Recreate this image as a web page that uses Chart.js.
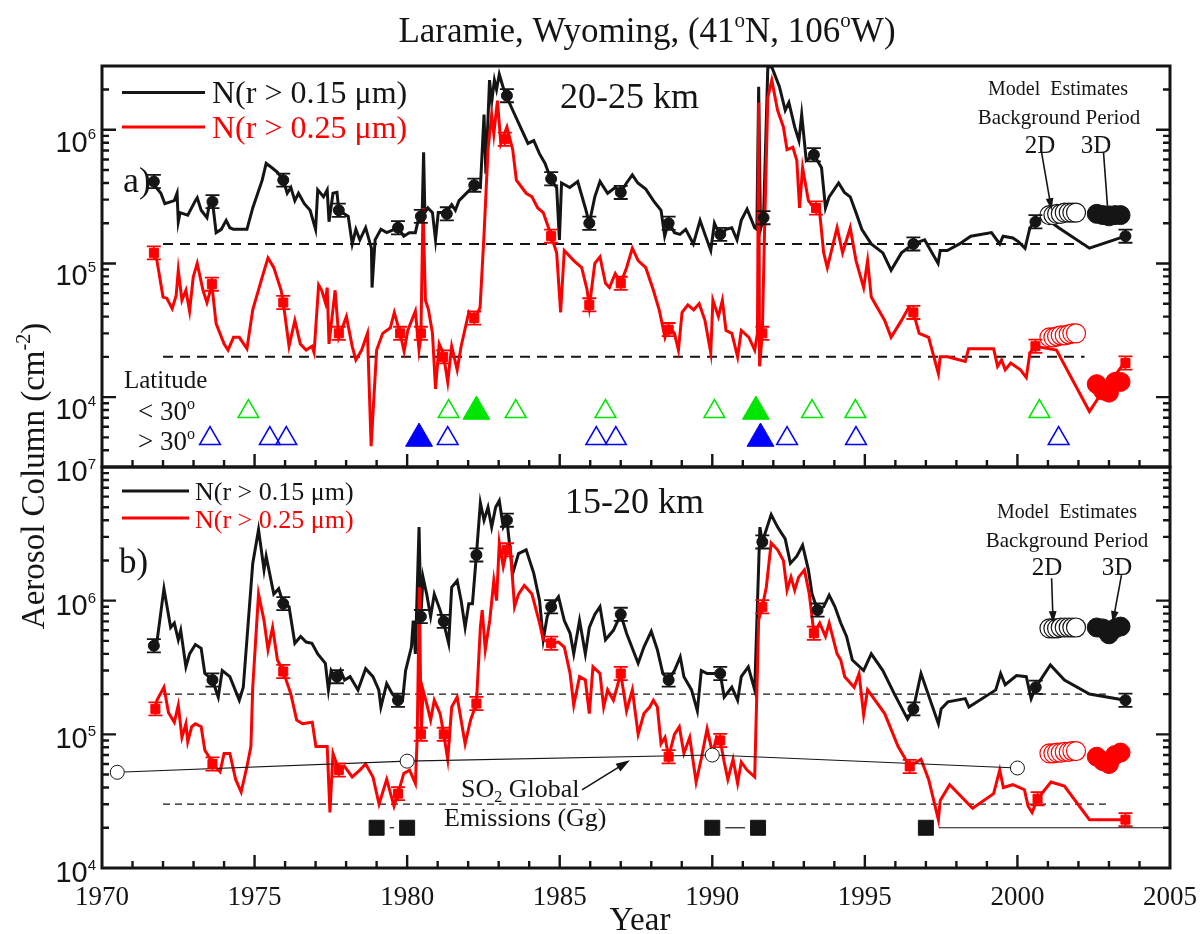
<!DOCTYPE html>
<html>
<head>
<meta charset="utf-8">
<title>Laramie aerosol columns</title>
<script src="https://cdn.jsdelivr.net/npm/chart.js@4.4.1/dist/chart.umd.min.js"></script>
<style>
  html, body { margin: 0; padding: 0; background: #fff; }
  #wrap { position: relative; width: 1200px; height: 934px; overflow: hidden; background: #fff; }
  #wrap canvas { position: absolute; left: 0; top: 0; }
</style>
</head>
<body>
<div id="wrap">
  <canvas id="panelA" width="1200" height="934"></canvas>
  <canvas id="panelB" width="1200" height="934"></canvas>
</div>
<script>
// ---------- shared axis values ----------
const yearTicks = [1970, 1975, 1980, 1985, 1990, 1995, 2000, 2005];
const decadesA = [1e4, 1e5, 1e6];
const decadesB = [1e4, 1e5, 1e6, 1e7];

// ---------- a) 20-25 km, N(r > 0.15 um) ----------
const yearsA15 = [
  1971.62,1971.93,1972.06,1972.37,1972.46,1972.5,1972.56,1972.81,1973.06,1973.12,
  1973.25,1973.44,1973.54,1973.62,1973.74,1973.91,1974.07,1974.19,1974.31,1974.75,
  1974.94,1975.25,1975.38,1975.57,1975.75,1975.94,1976.07,1976.19,1976.32,1976.44,
  1976.63,1976.82,1977.0,1977.07,1977.26,1977.38,1977.44,1977.57,1977.7,1977.76,
  1978.07,1978.2,1978.32,1978.45,1978.64,1978.83,1978.85,1978.95,1979.14,1979.33,
  1979.58,1979.7,1979.89,1980.07,1980.27,1980.39,1980.49,1980.54,1980.58,1980.68,
  1980.83,1980.93,1981.02,1981.27,1981.46,1981.58,1981.7,1981.97,1982.2,1982.4,
  1982.52,1982.58,1982.7,1982.77,1982.86,1982.93,1983.02,1983.14,1983.27,1983.46,
  1983.71,1983.96,1984.15,1984.34,1984.52,1984.72,1984.9,1984.99,1985.06,1985.33,
  1985.59,1985.84,1985.97,1986.15,1986.32,1986.57,1986.82,1987.0,1987.19,1987.38,
  1987.56,1987.82,1988.07,1988.32,1988.44,1988.57,1988.76,1988.94,1989.13,1989.38,
  1989.6,1989.76,1989.95,1990.07,1990.26,1990.45,1990.64,1990.81,1990.95,1991.14,
  1991.39,1991.46,1991.52,1991.58,1991.68,1991.82,1991.95,1992.2,1992.39,1992.51,
  1992.7,1992.84,1992.93,1993.08,1993.33,1993.58,1993.71,1993.83,1994.14,1994.33,
  1994.52,1994.71,1994.9,1995.21,1995.59,1995.86,1996.2,1996.59,1996.96,1997.4,
  1997.47,1997.7,1998.1,1998.47,1999.15,1999.42,1999.53,1999.85,2000.04,2000.25,
  2000.41,2000.59,2000.85,2001.35,2002.36,2003.54
];
const valsA15 = [
  4.1e5,3.35e5,2.8e5,2.95e5,3.35e5,2.05e5,2.4e5,2.3e5,2.95e5,3.1e5,
  2.5e5,2.2e5,2.95e5,2.9e5,1.7e5,1.8e5,2.1e5,1.85e5,1.8e5,1.8e5,
  2.6e5,4.2e5,5.6e5,5.2e5,4.8e5,4.2e5,3.35e5,3.7e5,2.95e5,3.35e5,
  2.8e5,2.5e5,1.8e5,3.55e5,3.15e5,3.55e5,2.05e5,3.35e5,3.4e5,2.5e5,
  2.25e5,1.4e5,1.8e5,1.5e5,1.85e5,1.3e5,6.6e4,1.5e5,1.8e5,1.7e5,
  1.8e5,1.85e5,1.6e5,1.7e5,1.7e5,2.25e5,2.25e5,6.8e5,2.4e5,2.6e5,
  2.4e5,1.5e5,2.4e5,2.4e5,2.75e5,2.5e5,2.95e5,3.4e5,3.85e5,3.7e5,
  1.3e6,4.7e5,2.35e6,1.6e6,2.35e6,2.0e6,2.6e6,2.1e6,1.75e6,1.4e6,
  1.05e6,7.9e5,8.3e5,6.6e5,5.6e5,4.2e5,3.7e5,1.5e5,4.0e5,3.7e5,
  4.1e5,2.6e5,2.0e5,3.15e5,4.1e5,3.35e5,3.7e5,3.4e5,4.0e5,4.6e5,
  4.0e5,3.6e5,2.95e5,2.5e5,1.6e5,2.05e5,1.7e5,1.65e5,1.8e5,1.4e5,
  2.1e5,1.65e5,1.25e5,2.0e5,1.6e5,1.8e5,1.85e5,1.5e5,2.1e5,2.55e5,
  1.85e5,1.8e5,2.1e6,1.8e5,2.2e5,2.95e6,2.95e6,2.1e6,1.4e6,1.6e6,
  1.05e6,8.3e5,1.3e6,5.9e5,6.5e5,5.2e5,2.6e5,3.15e5,4.0e5,3.4e5,
  3.15e5,2.4e5,1.8e5,1.4e5,1.2e5,8.9e4,1.2e5,1.4e5,1.5e5,1.0e5,
  1.25e5,1.25e5,1.4e5,1.6e5,1.7e5,1.4e5,1.6e5,1.55e5,1.45e5,1.3e5,
  1.85e5,2.05e5,2.25e5,1.85e5,1.3e5,1.6e5
];

// ---------- a) 20-25 km, N(r > 0.25 um) ----------
const yearsA25 = [
  1971.7,1971.8,1972.0,1972.12,1972.3,1972.43,1972.5,1972.62,1972.75,1972.87,
  1972.99,1973.12,1973.31,1973.44,1973.6,1973.74,1974.0,1974.13,1974.31,1974.5,
  1974.75,1974.94,1975.25,1975.44,1975.63,1975.87,1975.94,1976.13,1976.32,1976.5,
  1976.69,1976.88,1976.95,1977.1,1977.2,1977.32,1977.38,1977.44,1977.64,1977.76,
  1978.01,1978.2,1978.32,1978.51,1978.7,1978.82,1979.0,1979.2,1979.45,1979.58,
  1979.77,1979.9,1980.02,1980.27,1980.39,1980.45,1980.52,1980.6,1980.7,1980.83,
  1980.93,1981.05,1981.18,1981.33,1981.46,1981.64,1981.77,1982.02,1982.2,1982.39,
  1982.52,1982.65,1982.77,1982.84,1982.96,1983.07,1983.27,1983.46,1983.58,1983.9,
  1984.09,1984.28,1984.46,1984.65,1984.72,1984.9,1985.03,1985.15,1985.46,1985.72,
  1985.9,1985.97,1986.15,1986.32,1986.5,1986.63,1986.82,1987.0,1987.19,1987.38,
  1987.57,1987.82,1988.07,1988.26,1988.45,1988.57,1988.76,1988.89,1989.01,1989.2,
  1989.39,1989.57,1989.76,1989.95,1990.02,1990.2,1990.33,1990.45,1990.64,1990.83,
  1990.95,1991.2,1991.39,1991.48,1991.52,1991.55,1991.64,1991.71,1991.82,1991.95,
  1992.14,1992.33,1992.45,1992.64,1992.77,1992.86,1992.96,1993.15,1993.33,1993.52,
  1993.65,1993.77,1994.09,1994.27,1994.52,1994.71,1994.96,1995.09,1995.21,1995.65,
  1995.86,1996.2,1996.44,1996.59,1996.78,1997.09,1997.41,1997.47,1997.71,1998.29,
  1998.4,1999.22,1999.35,1999.48,1999.6,1999.78,2000.1,2000.29,2000.41,2000.59,
  2001.28,2002.36,2002.73,2003.54
];
const valsA25 = [
  1.2e5,1.05e5,5.6e4,5.5e4,4.6e4,5.75e4,8.9e4,5.3e4,6.3e4,4.4e4,
  7.9e4,1.0e5,6.3e4,5.1e4,6.9e4,3.55e4,2.5e4,2.25e4,2.8e4,2.8e4,
  2.3e4,4.5e4,7.9e4,1.1e5,9.3e4,6.3e4,5.1e4,2.4e4,3.75e4,2.5e4,
  2.25e4,2.4e4,2.15e4,6.9e4,6.3e4,5.1e4,6.6e4,2.5e4,6.3e4,2.8e4,
  4.0e4,2.4e4,1.9e4,2.25e4,3.0e4,4.3e3,2.25e4,3.0e4,3.3e4,4.3e4,
  3.0e4,2.2e4,3.15e4,4.4e4,2.25e4,2.8e4,2.6e5,5.3e4,4.5e4,3.0e4,
  1.15e4,2.5e4,2.15e4,1.3e4,2.4e4,1.6e4,2.4e4,4.3e4,3.75e4,4.7e4,
  1.65e5,7.1e5,1.3e6,9.3e5,1.65e6,7.9e5,1.05e6,7.1e5,4.2e5,3.35e5,
  3.15e5,2.6e5,2.4e5,1.8e5,1.6e5,1.2e5,4.3e4,1.25e5,1.05e5,9.3e4,
  6.3e4,4.7e4,1.0e5,1.12e5,7.1e4,6.6e4,8.4e4,7.1e4,9.3e4,1.3e5,
  1.05e5,9.3e4,6.3e4,4.5e4,2.8e4,3.35e4,3.0e4,2.25e4,4.3e4,4.9e4,
  4.5e4,5.0e4,3.75e4,2.15e4,5.3e4,4.0e4,5.3e4,3.15e4,3.0e4,2.0e4,
  3.15e4,2.8e4,2.25e4,3.0e4,1.6e6,1.7e4,3.0e4,1.65e5,1.75e6,2.35e6,
  1.4e6,1.05e6,7.1e5,7.4e5,5.9e5,2.6e5,5.2e5,2.95e5,2.6e5,2.4e5,
  1.2e5,9.3e4,1.85e5,1.2e5,1.85e5,1.05e5,6.6e4,1.05e5,5.6e4,3.75e4,
  2.8e4,3.75e4,4.7e4,4.3e4,3.0e4,2.8e4,1.5e4,2.0e4,2.0e4,1.85e4,
  2.3e4,2.3e4,1.7e4,1.9e4,1.6e4,1.8e4,1.6e4,1.4e4,2.15e4,2.4e4,
  2.25e4,7.8e3,1.05e4,1.85e4
];

// ---------- b) 15-20 km, N(r > 0.15 um) ----------
const yearsB15 = [
  1971.62,1971.8,1972.03,1972.25,1972.37,1972.5,1972.58,1972.75,1972.87,1973.06,
  1973.25,1973.37,1973.5,1973.62,1973.81,1973.94,1974.19,1974.5,1974.63,1974.94,
  1975.13,1975.31,1975.38,1975.63,1975.79,1975.94,1976.13,1976.32,1976.51,1976.69,
  1976.88,1977.07,1977.32,1977.42,1977.51,1977.7,1977.82,1977.95,1978.13,1978.39,
  1978.64,1978.88,1979.07,1979.14,1979.33,1979.52,1979.7,1979.85,1979.95,1980.14,
  1980.2,1980.27,1980.39,1980.45,1980.52,1980.64,1980.77,1980.89,1981.08,1981.2,
  1981.36,1981.46,1981.64,1981.77,1981.9,1982.02,1982.14,1982.27,1982.4,1982.52,
  1982.65,1982.77,1982.9,1983.02,1983.15,1983.27,1983.46,1983.65,1983.9,1984.15,
  1984.34,1984.46,1984.59,1984.72,1984.96,1985.15,1985.34,1985.46,1985.65,1985.84,
  1985.97,1986.15,1986.32,1986.5,1986.76,1987.0,1987.19,1987.57,1987.76,1988.0,
  1988.2,1988.38,1988.57,1988.76,1988.95,1989.07,1989.32,1989.51,1989.64,1989.83,
  1990.01,1990.26,1990.39,1990.64,1990.83,1990.95,1991.18,1991.39,1991.56,1991.64,
  1991.77,1991.93,1992.14,1992.39,1992.56,1992.77,1992.96,1993.15,1993.27,1993.45,
  1993.65,1993.83,1994.02,1994.21,1994.4,1994.59,1994.96,1995.21,1995.59,1995.97,
  1996.4,1996.59,1996.84,1997.41,1997.5,1997.72,1998.29,1998.41,1999.29,1999.45,
  1999.6,1999.97,2000.29,2000.45,2000.6,2001.08,2001.54,2002.36,2003.54
];
const valsB15 = [
  4.5e5,4.9e5,1.23e6,6.3e5,6.8e5,5.1e5,6.0e5,3.2e5,4.0e5,4.7e5,
  4.4e5,2.85e5,2.7e5,2.55e5,1.9e5,3.0e5,2.7e5,1.8e5,2.25e5,1.9e6,
  3.4e6,1.7e6,2.15e6,1.12e6,1.23e6,9.5e5,9.0e5,4.8e5,5.4e5,4.9e5,
  4.8e5,4.0e5,3.4e5,2.15e5,3.0e5,2.55e5,3.0e5,2.55e5,2.7e5,2.15e5,
  3.1e5,2.7e5,2.15e5,1.6e5,2.4e5,2.0e5,1.8e5,1.8e5,3.0e5,4.5e5,
  7.1e5,4.0e5,3.55e6,7.6e5,1.5e6,1.12e6,7.6e5,1.12e6,8.5e5,6.8e5,
  4.8e5,1.26e6,1.41e6,1.0e6,6.3e5,9.5e5,9.5e5,2.2e6,5.4e6,4.0e6,
  5.0e6,3.55e6,5.0e6,5.6e6,3.55e6,4.0e6,1.6e6,2.25e6,2.4e6,1.6e6,
  1.0e6,5.1e5,7.6e5,9.0e5,1.07e6,7.1e5,5.7e5,4.0e5,7.1e5,4.0e5,
  6.3e5,7.9e5,9.0e5,5.1e5,6.0e5,7.9e5,5.7e5,3.4e5,4.5e5,5.9e5,
  4.3e5,2.85e5,2.55e5,3.0e5,3.8e5,2.7e5,2.15e5,1.5e5,3.0e5,2.85e5,
  2.85e5,2.85e5,1.9e5,2.25e5,1.8e5,2.7e5,3.2e5,2.15e5,3.55e6,2.75e6,
  3.4e6,4.4e6,3.55e6,2.9e6,1.9e6,2.15e6,2.6e6,1.7e6,1.12e6,8.5e5,
  9.0e5,1.1e6,9.0e5,6.8e5,5.4e5,3.6e5,3.0e5,4.0e5,3.0e5,2.0e5,
  1.3e5,1.55e5,2.85e5,1.2e5,1.55e5,1.75e5,1.85e5,1.6e5,2.15e5,2.85e5,
  2.35e5,2.75e5,2.7e5,1.85e5,2.25e5,3.3e5,2.55e5,2.0e5,1.8e5
];

// ---------- b) 15-20 km, N(r > 0.25 um) ----------
const yearsB25 = [
  1971.75,1971.8,1972.03,1972.18,1972.37,1972.5,1972.62,1972.75,1972.81,1972.94,
  1973.06,1973.25,1973.37,1973.56,1973.62,1973.87,1974.0,1974.19,1974.38,1974.56,
  1974.75,1974.88,1974.94,1975.13,1975.31,1975.44,1975.59,1975.75,1975.94,1976.19,
  1976.38,1976.57,1976.89,1977.01,1977.38,1977.47,1977.57,1977.76,1977.95,1978.2,
  1978.45,1978.64,1978.88,1979.08,1979.33,1979.57,1979.7,1979.89,1980.08,1980.27,
  1980.33,1980.4,1980.46,1980.52,1980.64,1980.77,1980.89,1981.08,1981.2,1981.33,
  1981.46,1981.64,1981.9,1982.08,1982.27,1982.4,1982.46,1982.56,1982.71,1982.84,
  1982.93,1983.02,1983.15,1983.27,1983.39,1983.52,1983.65,1983.84,1984.09,1984.34,
  1984.46,1984.72,1984.96,1985.15,1985.34,1985.46,1985.65,1985.84,1985.97,1986.09,
  1986.32,1986.44,1986.57,1986.76,1987.0,1987.19,1987.38,1987.57,1987.76,1987.95,
  1988.07,1988.2,1988.32,1988.45,1988.57,1988.76,1988.92,1989.07,1989.26,1989.47,
  1989.64,1989.83,1990.01,1990.14,1990.26,1990.39,1990.51,1990.68,1990.83,1990.95,
  1991.14,1991.39,1991.52,1991.64,1991.77,1991.93,1992.14,1992.33,1992.45,1992.58,
  1992.7,1992.83,1993.02,1993.18,1993.33,1993.52,1993.71,1993.83,1994.09,1994.21,
  1994.34,1994.65,1994.81,1994.96,1995.09,1995.65,1996.09,1996.47,1996.84,1997.09,
  1997.41,1997.47,1997.78,1998.53,1999.22,1999.42,1999.54,1999.85,2000.23,2000.35,
  2000.48,2000.66,2001.1,2001.54,2002.36,2003.54
];
const valsB25 = [
  1.55e5,1.8e5,2.25e5,1.45e5,1.23e5,1.65e5,9.5e4,1.2e5,8.8e4,1.14e5,
  1.2e5,1.14e5,7.6e4,6.5e4,6.0e4,5.25e4,7.2e4,7.2e4,4.6e4,3.7e4,
  5.75e4,8.1e4,2.25e5,1.12e6,7.1e5,4.3e5,6.3e5,3.6e5,2.95e5,2.0e5,
  1.28e5,1.2e5,1.23e5,8.1e4,8.1e4,2.6e4,7.2e4,5.4e4,5.75e4,4.8e4,
  5.4e4,6.0e4,4.8e4,3.0e4,4.6e4,2.9e4,3.6e4,5.1e4,5.4e4,4.3e4,
  9.5e4,1.26e6,1.0e5,2.15e5,1.7e5,1.28e5,1.8e5,1.43e5,1.0e5,6.5e4,
  1.6e5,1.9e5,8.5e4,1.28e5,1.7e5,6.3e5,8.5e5,4.3e5,7.2e5,1.41e6,
  1.0e6,2.7e6,1.8e6,2.4e6,2.3e6,9.0e5,1.12e6,1.3e6,1.12e6,6.8e5,
  5.1e5,4.8e5,4.9e5,4.5e5,2.85e5,1.65e5,2.7e5,2.55e5,1.43e5,3.2e5,
  2.85e5,1.6e5,2.15e5,1.8e5,2.85e5,1.5e5,2.15e5,1.0e5,1.43e5,1.6e5,
  1.8e5,1.6e5,8.5e4,9.5e4,6.8e4,1.0e5,1.14e5,7.2e4,9.5e4,4.4e4,
  6.6e4,1.1e5,7.2e4,9.5e4,9.0e4,6.2e4,4.6e4,6.5e4,4.3e4,6.2e4,
  5.4e4,4.8e4,7.2e5,9.0e5,1.26e6,2.7e6,2.4e6,2.0e6,1.2e6,1.5e6,
  1.2e6,1.5e6,1.7e6,1.12e6,5.7e5,6.8e5,5.4e5,6.8e5,4.0e5,3.6e5,
  2.7e5,2.25e5,2.85e5,1.4e5,2.15e5,1.43e5,8.1e4,5.75e4,6.5e4,4.6e4,
  2.3e4,3.2e4,4.2e4,2.8e4,3.6e4,5.4e4,4.0e4,4.2e4,3.85e4,2.9e4,
  2.6e4,3.3e4,4.4e4,4.1e4,2.3e4,2.3e4
];

// ---------- measurement points with error bars ----------
const markA15Years = [1971.7,1973.62,1975.94,1977.76,1979.7,1980.45,1981.3,1982.2,1983.27,1984.72,1985.97,1987.0,1988.57,1990.26,1991.68,1993.33,1996.59,2000.59,2003.54];
const markA15Vals  = [4.1e5,2.9e5,4.2e5,2.5e5,1.85e5,2.25e5,2.35e5,3.85e5,1.8e6,4.3e5,2.0e5,3.4e5,2.0e5,1.65e5,2.2e5,6.5e5,1.4e5,2.05e5,1.6e5];
const markA25Years = [1971.7,1973.6,1975.94,1977.76,1979.77,1980.45,1981.18,1982.2,1983.2,1984.72,1985.97,1987.0,1988.57,1991.64,1993.4,1996.59,2000.59,2003.54];
const markA25Vals  = [1.2e5,7.0e4,5.1e4,3.0e4,3.0e4,3.0e4,2.0e4,3.9e4,8.5e5,1.6e5,4.9e4,7.1e4,3.2e4,3.0e4,2.6e5,4.3e4,2.4e4,1.8e4];
const markB15Years = [1971.7,1973.62,1975.94,1977.7,1979.7,1980.45,1981.2,1982.27,1983.27,1984.72,1987.0,1988.57,1990.26,1991.64,1993.45,1996.59,2000.6,2003.54];
const markB15Vals  = [4.6e5,2.55e5,9.5e5,2.7e5,1.8e5,7.6e5,7.0e5,2.2e6,4.0e6,9.0e5,7.9e5,2.55e5,2.85e5,2.75e6,8.5e5,1.55e5,2.25e5,1.8e5];
const markB25Years = [1971.75,1973.62,1975.94,1977.76,1979.7,1980.45,1981.2,1982.27,1983.27,1984.72,1987.0,1988.57,1990.26,1991.64,1993.33,1996.47,2000.66,2003.54];
const markB25Vals  = [1.55e5,6.0e4,2.95e5,5.4e4,3.6e4,1.0e5,1.0e5,1.7e5,2.4e6,4.8e5,2.85e5,6.8e4,9.0e4,9.0e5,5.7e5,5.75e4,3.3e4,2.3e4];
const relErr = 0.12;

// ---------- background levels (dashed) ----------
const bgSpanA = [1972.0, 2002.2];
const bgA15 = 1.4e5, bgA25 = 2.0e4;
const bgSpanB = [1972.0, 2002.9];
const bgB15 = 2.0e5, bgB25 = 3.0e4;

// ---------- model estimates, background period ----------
const model2DYears = [2001.05,2001.18,2001.3,2001.42,2001.55,2001.68,2001.8,2001.92];
const model3DYears = [2002.6,2002.8,2003.0,2003.2,2003.38];
const modelA15_2D = [2.3e5,2.3e5,2.35e5,2.35e5,2.4e5,2.4e5,2.4e5,2.4e5];
const modelA15_3D = [2.35e5,2.3e5,2.25e5,2.3e5,2.3e5];
const modelA25_2D = [2.8e4,2.8e4,2.85e4,2.9e4,2.9e4,2.95e4,3.0e4,3.0e4];
const modelA25_3D = [1.25e4,1.12e4,1.08e4,1.3e4,1.3e4];
const modelB15_2D = [6.2e5,6.2e5,6.2e5,6.3e5,6.3e5,6.3e5,6.3e5,6.3e5];
const modelB15_3D = [6.3e5,6.2e5,5.6e5,6.2e5,6.4e5];
const modelB25_2D = [7.2e4,7.2e4,7.3e4,7.3e4,7.4e4,7.4e4,7.5e4,7.5e4];
const modelB25_3D = [6.8e4,6.3e4,6.0e4,7.0e4,7.3e4];

// ---------- volcanic eruptions by latitude (panel a) ----------
const latLowYears = [1974.8,1981.36,1983.56,1986.5,1990.07,1993.27,1994.69,2000.72];
const latLowMajor = [1982.27,1991.43];
const latHighYears = [1973.54,1975.5,1976.04,1981.33,1986.2,1986.84,1992.45,1994.71,2001.35];
const latHighMajor = [1980.39,1991.58];
const latLowLevel = 7.8e3, latHighLevel = 4.9e3;

// ---------- SO2 global emissions and instrument periods (panel b) ----------
const so2Years = [1970.5, 1980.0, 1990.0, 2000.0];
const so2Vals  = [5.2e4, 6.3e4, 7.0e4, 5.6e4];
const periodMarkYears = [1979.0, 1980.0, 1990.0, 1991.5, 1997.0];
const periodStart = [1979.0, 1990.0, 1997.0];
const periodEnd   = [1980.0, 1991.5, 2005.0];
const periodLevel = 2.0e4;

// ---------- styling ----------
const INK = '#151515', RED = '#ff0000', GREEN = '#00e600', BLUE = '#0000ff';
const SERIF = "'Liberation Serif','Times New Roman',serif";
const SANS = "'Liberation Sans',Arial,sans-serif";

const pts = (xs, ys) => xs.map((x, i) => ({ x, y: ys[i] }));
const flat = (xs, v) => xs.map(x => ({ x, y: v }));

function lineSet(data, color, width, order, dash) {
  return { type: 'line', data, borderColor: color, borderWidth: width, borderDash: dash || [],
           pointRadius: 0, tension: 0, fill: false, order };
}
function pointSet(data, style, radius, fill, stroke, bw, order) {
  return { type: 'line', data, showLine: false, pointStyle: style, pointRadius: radius,
           pointBackgroundColor: fill, pointBorderColor: stroke, pointBorderWidth: bw, order };
}

// draw a run of text pieces, some raised or lowered
function textRuns(ctx, parts, x, y, size, family, color, align) {
  const fontOf = k => `${k ? Math.round(size * 0.6) : size}px ${family}`;
  let total = 0;
  for (const [t, k] of parts) { ctx.font = fontOf(k); total += ctx.measureText(t).width; }
  let cx = align === 'center' ? x - total / 2 : align === 'right' ? x - total : x;
  ctx.fillStyle = color; ctx.textAlign = 'left'; ctx.textBaseline = 'alphabetic';
  for (const [t, k] of parts) {
    ctx.font = fontOf(k);
    const dy = k === 'sup' ? -size * 0.42 : k === 'sub' ? size * 0.2 : 0;
    ctx.fillText(t, cx, y + dy);
    cx += ctx.measureText(t).width;
  }
}

function arrow(ctx, x1, y1, x2, y2, head, lw) {
  const ang = Math.atan2(y2 - y1, x2 - x1);
  ctx.lineWidth = lw; ctx.strokeStyle = INK; ctx.fillStyle = INK;
  ctx.beginPath(); ctx.moveTo(x1, y1);
  ctx.lineTo(x2 - Math.cos(ang) * head * 0.8, y2 - Math.sin(ang) * head * 0.8); ctx.stroke();
  ctx.beginPath(); ctx.moveTo(x2, y2);
  ctx.lineTo(x2 - Math.cos(ang) * head + Math.sin(ang) * head * 0.32, y2 - Math.sin(ang) * head - Math.cos(ang) * head * 0.32);
  ctx.lineTo(x2 - Math.cos(ang) * head - Math.sin(ang) * head * 0.32, y2 - Math.sin(ang) * head + Math.cos(ang) * head * 0.32);
  ctx.closePath(); ctx.fill();
}

function decor(spec) {
  return {
    id: 'decor' + spec.key,
    afterDatasetsDraw(chart) {
      const ctx = chart.ctx, a = chart.chartArea, xs = chart.scales.x, ys = chart.scales.y;
      const X = v => xs.getPixelForValue(v), Y = v => ys.getPixelForValue(v);
      ctx.save();

      // error bars on the measurement points
      for (const s of spec.errSeries) {
        ctx.strokeStyle = s.color; ctx.lineWidth = 1.8;
        s.xs.forEach((yr, i) => {
          const px = X(yr), hi = Y(s.ys[i] * (1 + relErr)), lo = Y(s.ys[i] / (1 + relErr));
          ctx.beginPath();
          ctx.moveTo(px, hi); ctx.lineTo(px, lo);
          ctx.moveTo(px - 7, hi); ctx.lineTo(px + 7, hi);
          ctx.moveTo(px - 7, lo); ctx.lineTo(px + 7, lo);
          ctx.stroke();
        });
      }

      // links between instrument-period markers
      if (spec.periods) {
        ctx.strokeStyle = INK; ctx.lineWidth = 1.2;
        const py = Y(periodLevel);
        periodStart.forEach((s, i) => {
          const e = periodEnd[i];
          const x1 = X(s) + 13;
          const x2 = e >= 2005 ? X(e) : X(e) - 13;
          ctx.beginPath(); ctx.moveTo(x1, py); ctx.lineTo(x2, py); ctx.stroke();
        });
      }

      // frame
      ctx.strokeStyle = INK; ctx.lineWidth = 3;
      ctx.strokeRect(a.left, a.top, a.right - a.left, a.bottom - a.top);

      // inward tick marks
      ctx.lineWidth = 2.4;
      ctx.beginPath();
      for (let yr = 1971; yr < 2005; yr++) {
        const px = X(yr), len = yearTicks.includes(yr) ? 13 : 7;
        ctx.moveTo(px, a.bottom); ctx.lineTo(px, a.bottom - len);
      }
      const e0 = Math.floor(Math.log10(spec.yMin)), e1 = Math.ceil(Math.log10(spec.yMax));
      for (let e = e0; e <= e1; e++) {
        for (let m = 1; m <= 9; m++) {
          const v = m * Math.pow(10, e);
          if (v < spec.yMin * 0.999 || v > spec.yMax * 1.001) continue;
          const py = Y(v), len = m === 1 ? 14 : 7;
          if (Math.abs(py - a.top) < 1 || Math.abs(py - a.bottom) < 1) continue;
          ctx.moveTo(a.left, py); ctx.lineTo(a.left + len, py);
          ctx.moveTo(a.right, py); ctx.lineTo(a.right - len, py);
        }
      }
      ctx.stroke();

      // y tick labels 10^n
      ctx.fillStyle = INK; ctx.textBaseline = 'alphabetic'; ctx.textAlign = 'right';
      for (const v of spec.decades) {
        const py = Y(v), ex = String(Math.round(Math.log10(v)));
        ctx.font = `15px ${SANS}`;
        const sw = ctx.measureText(ex).width;
        ctx.fillText(ex, 96, py + spec.supDrop);
        ctx.font = `29px ${SANS}`;
        ctx.fillText('10', 96 - sw, py + spec.labelDrop);
      }

      // legend
      const L = spec.legend;
      for (const r of L.rows) {
        ctx.strokeStyle = r.color; ctx.lineWidth = 3;
        ctx.beginPath(); ctx.moveTo(L.x1, r.y); ctx.lineTo(L.x2, r.y); ctx.stroke();
        textRuns(ctx, [[r.text, '']], L.textX, r.base, L.size, SERIF, r.color, 'left');
      }

      // free text
      for (const t of spec.texts) textRuns(ctx, t.parts, t.x, t.y, t.size, t.family || SERIF, t.color || INK, t.align || 'left');

      // arrows, anchored in data units
      for (const ar of spec.arrows) arrow(ctx, X(ar.from[0]), Y(ar.from[1]), X(ar.to[0]), Y(ar.to[1]), ar.head, ar.lw);

      // x tick labels and axis titles
      if (spec.xLabels) {
        for (const yr of yearTicks) textRuns(ctx, [[String(yr), '']], X(yr), 905, 27, SERIF, INK, 'center');
        textRuns(ctx, [['Year', '']], (a.left + a.right) / 2 + 4, 930, 33, SERIF, INK, 'center');
        textRuns(ctx, [['Laramie, Wyoming, (41', ''], ['o', 'sup'], ['N, 106', ''], ['o', 'sup'], ['W)', '']], 647, 42, 35, SERIF, INK, 'center');
        ctx.save();
        ctx.translate(44, 476); ctx.rotate(-Math.PI / 2);
        textRuns(ctx, [['Aerosol Column (cm', ''], ['-2', 'sup'], [')', '']], 0, 0, 33, SERIF, INK, 'center');
        ctx.restore();
      }
      ctx.restore();
    }
  };
}

function buildPanel(id, spec, datasets) {
  return new Chart(document.getElementById(id), {
    type: 'line',
    data: { datasets },
    options: {
      responsive: false, animation: false, devicePixelRatio: 1, events: [],
      layout: { padding: spec.padding },
      plugins: { legend: { display: false }, tooltip: { enabled: false } },
      scales: {
        x: { type: 'linear', min: 1970, max: 2005, display: false },
        y: { type: 'logarithmic', min: spec.yMin, max: spec.yMax, display: false }
      }
    },
    plugins: [decor(spec)]
  });
}

// ---------- panel a: 20-25 km ----------
const specA = {
  key: 'A', yMin: 3e3, yMax: 3e6, decades: decadesA, labelDrop: 22, supDrop: 9,
  padding: { left: 102, right: 30, top: 66, bottom: 467 },
  errSeries: [
    { xs: markA15Years, ys: markA15Vals, color: INK },
    { xs: markA25Years, ys: markA25Vals, color: RED }
  ],
  legend: { x1: 122, x2: 205, textX: 212, size: 32, rows: [
    { y: 92.5, base: 103, color: INK, text: 'N(r > 0.15 \u03bcm)' },
    { y: 127, base: 138, color: RED, text: 'N(r > 0.25 \u03bcm)' }
  ] },
  texts: [
    { parts: [['20-25 km', '']], x: 560, y: 108, size: 36 },
    { parts: [['a)', '']], x: 123, y: 192, size: 36 },
    { parts: [['Latitude', '']], x: 124, y: 388, size: 25 },
    { parts: [['< 30', ''], ['o', 'sup']], x: 138, y: 420, size: 27 },
    { parts: [['> 30', ''], ['o', 'sup']], x: 138, y: 450, size: 27 },
    { parts: [['Model  Estimates', '']], x: 1058, y: 95, size: 20, align: 'center' },
    { parts: [['Background Period', '']], x: 1059, y: 124, size: 21, align: 'center' },
    { parts: [['2D', '']], x: 1040, y: 153, size: 25, align: 'center' },
    { parts: [['3D', '']], x: 1096, y: 153, size: 25, align: 'center' }
  ],
  arrows: [
    { from: [2000.79, 6.8e5], to: [2001.12, 2.5e5], head: 12, lw: 1.6 },
    { from: [2002.82, 6.8e5], to: [2002.98, 2.2e5], head: 12, lw: 1.6 }
  ]
};
buildPanel('panelA', specA, [
  pointSet(pts(markA25Years, markA25Vals), 'rect', 6.4, RED, RED, 1, 0),
  pointSet(pts(markA15Years, markA15Vals), 'circle', 5.5, INK, INK, 1, 0),
  pointSet(pts(model2DYears, modelA15_2D), 'circle', 9.5, '#ffffff', INK, 1.2, 0),
  pointSet(pts(model3DYears, modelA15_3D), 'circle', 9.5, INK, INK, 1, 0),
  pointSet(pts(model2DYears, modelA25_2D), 'circle', 9.5, '#ffffff', RED, 1.2, 0),
  pointSet(pts(model3DYears, modelA25_3D), 'circle', 9.5, RED, RED, 1, 0),
  pointSet(flat(latLowYears, latLowLevel), 'triangle', 12, 'rgba(0,0,0,0)', GREEN, 1.5, 0),
  pointSet(flat(latLowMajor, latLowLevel), 'triangle', 15.5, GREEN, GREEN, 1, 0),
  pointSet(flat(latHighYears, latHighLevel), 'triangle', 12, 'rgba(0,0,0,0)', BLUE, 1.5, 0),
  pointSet(flat(latHighMajor, latHighLevel), 'triangle', 15.5, BLUE, BLUE, 1, 0),
  lineSet(pts(yearsA25, valsA25), RED, 3, 1),
  lineSet(pts(yearsA15, valsA15), INK, 3, 2),
  lineSet(flat(bgSpanA, bgA15), INK, 2, 3, [10, 7]),
  lineSet(flat(bgSpanA, bgA25), INK, 2, 3, [10, 7])
]);

// ---------- panel b: 15-20 km ----------
const specB = {
  key: 'B', yMin: 1e4, yMax: 1e7, decades: decadesB, labelDrop: 14, supDrop: 2,
  padding: { left: 102, right: 30, top: 467, bottom: 66 },
  errSeries: [
    { xs: markB15Years, ys: markB15Vals, color: INK },
    { xs: markB25Years, ys: markB25Vals, color: RED }
  ],
  periods: true,
  xLabels: true,
  legend: { x1: 122, x2: 189, textX: 195, size: 26, rows: [
    { y: 491, base: 500, color: INK, text: 'N(r > 0.15 \u03bcm)' },
    { y: 518, base: 528, color: RED, text: 'N(r > 0.25 \u03bcm)' }
  ] },
  texts: [
    { parts: [['15-20 km', '']], x: 565, y: 513, size: 36 },
    { parts: [['b)', '']], x: 119, y: 573, size: 35 },
    { parts: [['Model  Estimates', '']], x: 1067, y: 518, size: 20, align: 'center' },
    { parts: [['Background Period', '']], x: 1067, y: 547, size: 21, align: 'center' },
    { parts: [['2D', '']], x: 1047, y: 575, size: 25, align: 'center' },
    { parts: [['3D', '']], x: 1117, y: 575, size: 25, align: 'center' },
    { parts: [['SO', ''], ['2', 'sub'], [' Global', '']], x: 461, y: 797, size: 26 },
    { parts: [['Emissions (Gg)', '']], x: 444, y: 826, size: 26 }
  ],
  arrows: [
    { from: [2001.12, 1.47e6], to: [2001.17, 6.8e5], head: 12, lw: 1.6 },
    { from: [2003.41, 1.55e6], to: [2003.12, 6.8e5], head: 12, lw: 1.6 },
    { from: [1985.73, 3.84e4], to: [1987.3, 6.4e4], head: 14, lw: 1.6 }
  ]
};
buildPanel('panelB', specB, [
  pointSet(pts(markB25Years, markB25Vals), 'rect', 6.4, RED, RED, 1, 0),
  pointSet(pts(markB15Years, markB15Vals), 'circle', 5.5, INK, INK, 1, 0),
  pointSet(pts(model2DYears, modelB15_2D), 'circle', 9.5, '#ffffff', INK, 1.2, 0),
  pointSet(pts(model3DYears, modelB15_3D), 'circle', 9.5, INK, INK, 1, 0),
  pointSet(pts(model2DYears, modelB25_2D), 'circle', 9.5, '#ffffff', RED, 1.2, 0),
  pointSet(pts(model3DYears, modelB25_3D), 'circle', 9.5, RED, RED, 1, 0),
  pointSet(flat(periodMarkYears, periodLevel), 'rect', 10.6, INK, INK, 1, 0),
  { type: 'line', data: pts(so2Years, so2Vals), borderColor: INK, borderWidth: 1.1, tension: 0,
    pointStyle: 'circle', pointRadius: 7, pointBackgroundColor: '#fff', pointBorderColor: INK,
    pointBorderWidth: 1, order: 0 },
  lineSet(pts(yearsB25, valsB25), RED, 3, 1),
  lineSet(pts(yearsB15, valsB15), INK, 3, 2),
  lineSet(flat(bgSpanB, bgB15), INK, 1.2, 3, [7, 5]),
  lineSet(flat(bgSpanB, bgB25), INK, 1.2, 3, [7, 5])
]);
</script>
</body>
</html>
